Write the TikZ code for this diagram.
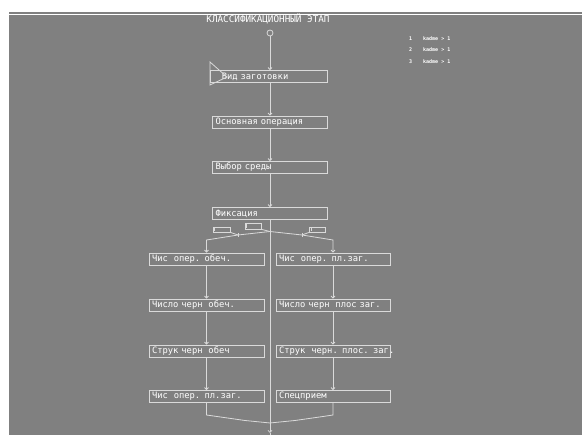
\documentclass[tikz,border=0pt]{standalone}
\usepackage{fontspec}
\setmonofont{DejaVu Sans Mono}
\usetikzlibrary{arrows.meta}
\definecolor{bg}{RGB}{128,128,128}
\definecolor{ln}{RGB}{218,218,218}
\begin{document}
\begin{tikzpicture}[x=1pt,y=-1pt,
  box/.style={draw=ln, line width=0.8pt, minimum height=12pt, text width=109pt,
    inner xsep=3pt, inner ysep=0pt, align=left, text=white,
    font=\ttfamily\fontsize{8.8}{9}\selectfont},
  smallbox/.style={draw=ln, line width=0.7pt, minimum width=17pt, minimum height=5pt, inner sep=0pt},
  conn/.style={draw=ln, line width=0.8pt, -{Straight Barb[length=2pt,width=4pt]}},
  plain/.style={draw=ln, line width=0.8pt},
  ttl/.style={text=white, font=\ttfamily\fontsize{9.3}{10}\selectfont, inner sep=0pt},
  leg/.style={text=white, font=\ttfamily\bfseries\fontsize{5}{5.5}\selectfont, inner sep=0pt, anchor=west}
]
\useasboundingbox (0,0) rectangle (582,435);
\fill[white] (0,0) rectangle (582,435);
\fill[bg] (9,12) rectangle (582,435);
\draw[white, line width=1pt] (9,14.5) -- (582,14.5);

% title and legend
\node[ttl] (title) at (268,18.5) {КЛАССИФИКАЦИОННЫЙ ЭТАП};
\node[leg] (k1) at (409,39) {1};
\node[leg] (t1) at (423,39) {kadme > 1};
\node[leg] (k2) at (409,50) {2};
\node[leg] (t2) at (423,50) {kadme > 1};
\node[leg] (k3) at (409,62) {3};
\node[leg] (t3) at (423,62) {kadme > 1};

% main column
\node[circle, draw=ln, fill=bg, minimum size=6pt, inner sep=0pt, line width=0.8pt] (circ) at (270,33) {};
\node[box, text width=111pt] (b1) at (268.5,76.5) {\ \ \ Вид заготовки};
\node[box] (b2) at (270,122) {Основная операция};
\node[box] (b3) at (270,167.5) {Выбор среды};
\node[box] (b4) at (270,213.5) {Фиксация};
\draw[plain] (210,62) -- (227,77) -- (210,85) -- cycle;

\draw[conn] (circ) -- (circ |- b1.north);
\draw[conn] (circ |- b1.south) -- (b2.north);
\draw[conn] (b2) -- (b3.north);
\draw[conn] (b3) -- (b4.north);

% left and right columns
\node[box] (L1) at (206.5,259) {Чис\ \ опер. обеч.};
\node[box] (L2) at (206.5,305) {Число черн\ \ обеч.};
\node[box] (L3) at (206.5,351) {Струк черн\ \ обеч};
\node[box] (L4) at (206.5,396.5) {Чис\ \ опер. пл.заг.};
\node[box, text width=108pt] (R1) at (333,259) {Чис\ \ опер. пл.заг.};
\node[box, text width=108pt] (R2) at (333,305) {Число черн\ \ плос заг.};
\node[box, text width=108pt] (R3) at (333,351) {\mbox{Струк\ \ черн. плос. заг.}};
\node[box, text width=108pt] (R4) at (333,396.5) {Спецприем};

\draw[conn] (L1) -- (L2.north);
\draw[conn] (L2) -- (L3.north);
\draw[conn] (L3) -- (L4.north);
\draw[conn] (R1) -- (R2.north);
\draw[conn] (R2) -- (R3.north);
\draw[conn] (R3) -- (R4.north);

% branching
\node[smallbox] (sl) at (221.5,229.5) {};
\node[smallbox, minimum width=16pt, minimum height=6pt] (sc) at (253,226) {};
\node[smallbox, minimum width=16pt] (sr) at (317.5,229.5) {};
\draw[ln, line width=0.6pt] ([xshift=2pt,yshift=-1pt]sl.north west) -- ([xshift=2pt,yshift=1pt]sl.south west);
\draw[ln, line width=0.6pt] ([xshift=2pt,yshift=-1pt]sc.north west) -- ([xshift=2pt,yshift=1pt]sc.south west);
\draw[ln, line width=0.6pt] ([xshift=2pt,yshift=-1pt]sr.north west) -- ([xshift=2pt,yshift=1pt]sr.south west);

\coordinate (split) at (270,231.5);
\coordinate (tl) at (238,235);
\coordinate (tr) at (302,235);
\coordinate (el) at (206.5,240);
\coordinate (er) at (333,240);
\draw[plain] (sc.south east) -- (split);
\draw[conn] (split) -- (tl) -- (el) -- (L1.north);
\draw[conn] (split) -- (tr) -- (er) -- (R1.north);
\draw[plain] (sl.south east) -- (tl);
\draw[plain] (sr.south west) -- (tr);
\draw[plain] ([yshift=-2pt]tl) -- ([yshift=2pt]tl);
\draw[plain] ([yshift=-2pt]tr) -- ([yshift=2pt]tr);

% main trunk and merge
\coordinate (mj) at (270,423);
\coordinate (mend) at (270,433);
\coordinate (bot) at (270,436);
\coordinate (ml) at (206.5,415);
\coordinate (mr) at (333,415);
\draw[conn] (b4) -- (mend);
\draw[plain] (mend) -- (bot);
\draw[plain] (L4) -- (ml) -- (217,416.5) -- (245,420.5) -- (mj);
\draw[plain] (R4) -- (mr) -- (323,416.5) -- (295,420.5) -- (mj);
\end{tikzpicture}
\end{document}
